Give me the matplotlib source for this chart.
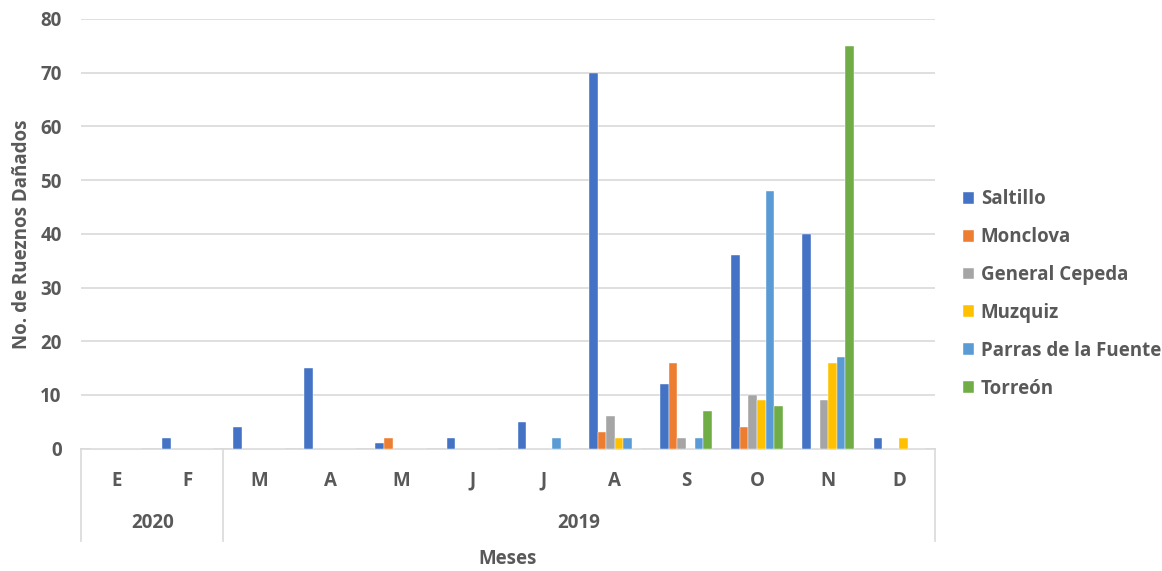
import matplotlib
matplotlib.use("Agg")
import matplotlib.pyplot as plt
import numpy as np
from matplotlib.lines import Line2D

plt.rcParams['font.family'] = ['Open Sans', 'DejaVu Sans']

months = ["E", "F", "M", "A", "M", "J", "J", "A", "S", "O", "N", "D"]
years = ["2020", "2019"]
year_spans = [(0, 2), (2, 12)]

series_names = ["Saltillo", "Monclova", "General Cepeda", "Muzquiz",
                "Parras de la Fuente", "Torreón"]
saltillo = [0, 2, 4, 15, 1, 2, 5, 70, 12, 36, 40, 2]
monclova = [0, 0, 0, 0, 2, 0, 0, 3, 16, 4, 0, 0]
general_cepeda = [0, 0, 0, 0, 0, 0, 0, 6, 2, 10, 9, 0]
muzquiz = [0, 0, 0, 0, 0, 0, 0, 2, 0, 9, 16, 2]
parras = [0, 0, 0, 0, 0, 0, 2, 2, 2, 48, 17, 0]
torreon = [0, 0, 0, 0, 0, 0, 0, 0, 7, 8, 75, 0]
series_values = [saltillo, monclova, general_cepeda, muzquiz, parras, torreon]
colors = ["#4472C4", "#ED7D31", "#A5A5A5", "#FFC000", "#5B9BD5", "#70AD47"]

text_color = "#595959"
grid_color = "#D9D9D9"
fs = 13.5

fig = plt.figure(figsize=(11.62, 5.71), dpi=100)
ax = fig.add_axes([81 / 1162, 1 - 448.6 / 571, (935 - 81) / 1162, (448.6 - 19) / 571])

n = len(series_names)
bw = 0.121
centers = np.arange(len(months)) + 0.5
handles = []
for k, (vals, c) in enumerate(zip(series_values, colors)):
    offs = (k - (n - 1) / 2) * bw
    b = ax.bar(centers + offs, vals, width=bw, color=c, edgecolor="white",
               linewidth=0.3, zorder=3, label=series_names[k])
    handles.append(b)

ax.set_xlim(0, len(months))
ax.set_ylim(0, 80)
ax.set_yticks(range(0, 81, 10))
ax.yaxis.grid(True, color=grid_color, linewidth=1.2, zorder=0)
ax.set_axisbelow(True)
for s in ["top", "right", "left"]:
    ax.spines[s].set_visible(False)
ax.spines["bottom"].set_color(grid_color)
ax.spines["bottom"].set_linewidth(1.2)
ax.tick_params(axis="y", length=0, pad=14, labelsize=fs, labelcolor=text_color)
for t in ax.get_yticklabels():
    t.set_fontweight("bold")
ax.set_xticks([])

# two-level category axis
trans = ax.get_xaxis_transform()
for i, m in enumerate(months):
    ax.text(centers[i], -0.075, m, transform=trans, ha="center", va="center",
            fontsize=fs, fontweight="bold", color=text_color)
for y, (a, b) in zip(years, year_spans):
    ax.text((a + b) / 2, -0.173, y, transform=trans, ha="center", va="center",
            fontsize=fs, fontweight="bold", color=text_color)
for xb in [0, 2, 12]:
    ax.add_line(Line2D([xb, xb], [0, -0.215], transform=trans, color=grid_color,
                       linewidth=1.2, clip_on=False))

ax.text(6, -0.257, "Meses", transform=trans, ha="center", va="center",
        fontsize=fs, fontweight="bold", color=text_color)
ax.set_ylabel("No. de Rueznos Dañados", fontsize=fs, fontweight="bold",
              color=text_color, labelpad=6)

leg = fig.legend(handles=handles, labels=series_names, loc="center left",
                 bbox_to_anchor=(946 / 1162, 1 - 294 / 571), frameon=False,
                 handlelength=0.6, handleheight=0.6, handletextpad=0.35,
                 labelspacing=0.95, prop={"size": fs, "weight": "bold"})
for t in leg.get_texts():
    t.set_color(text_color)

fig.savefig("out.png", dpi=100)
